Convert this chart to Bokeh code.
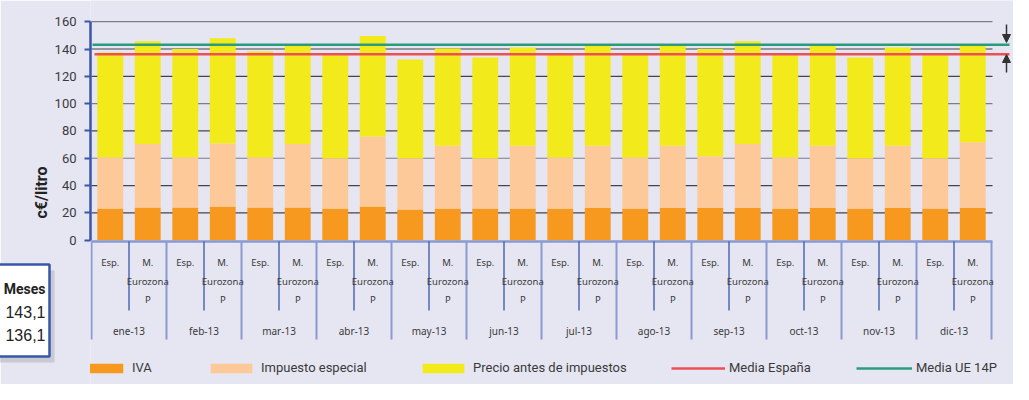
from bokeh.plotting import figure
from bokeh.models import Range1d, FixedTicker, ColumnDataSource, Legend, LegendItem, Arrow, NormalHead
from bokeh.core.properties import value
from bokeh.embed import file_html
from bokeh.resources import INLINE

# ---------------- data ----------------
months = ["ene-13", "feb-13", "mar-13", "abr-13", "may-13", "jun-13",
          "jul-13", "ago-13", "sep-13", "oct-13", "nov-13", "dic-13"]
types = ["Esp.", "M. Eurozona P"]

iva = [23.2, 24.0, 24.0, 24.7, 24.0, 24.0, 23.2, 24.7, 22.5, 23.2, 23.2, 23.2,
       23.2, 23.8, 23.2, 23.8, 23.8, 23.8, 23.2, 23.8, 23.2, 23.8, 23.2, 23.8]
impuesto_especial = [37.4, 46.4, 36.6, 46.1, 36.6, 46.4, 36.9, 51.3, 37.6, 45.9, 36.9, 45.9,
                     37.4, 45.3, 37.4, 45.3, 37.7, 46.6, 37.4, 45.3, 36.9, 45.3, 36.9, 48.0]
precio_antes = [76.9, 75.2, 79.4, 77.0, 77.6, 73.2, 75.4, 73.5, 72.3, 71.3, 73.7, 72.1,
                75.7, 73.8, 75.7, 74.5, 78.5, 75.2, 74.9, 73.8, 73.7, 72.1, 75.4, 71.8]
media_espana = 136.1
media_ue_14p = 143.1
y_ticks = [0, 20, 40, 60, 80, 100, 120, 140, 160]
box_title = "Meses"
box_values = ["143,1", "136,1"]

series_labels = ["IVA", "Impuesto especial", "Precio antes de impuestos"]
line_labels = ["Media España", "Media UE 14P"]

# ---------------- style / layout ----------------
FONT = "Roboto"
LABEL_FONT = "Noto Sans"
BG = "#E6E6F2"
C_IVA = "#F7991F"
C_IMP = "#FDC998"
C_PRE = "#F2EA1A"
C_RED = "#EE4E55"
C_GREEN = "#2A9C7E"
AXIS_BLUE = "#3A56A8"
LIGHT_BLUE = "#8A9AD0"
TXT = "#3a3a3a"
GRID_DARK = "#44444f"
GRID_LIGHT = "#7c7c8a"

W, H = 1013, 384
LEFT = 90
PX = 37.5          # pixels per bar slot
Y0_REF = 247.7     # reference pixel row of value 0
PPU = 1.3656       # pixels per unit


def dx(ref_x):
    return (ref_x - 99.0) / PX


def dy(ref_y):
    return (Y0_REF - ref_y) / PPU


x_range = Range1d(dx(98), dx(98) + (W - LEFT) / PX)
y_range = Range1d(dy(392), dy(8))

p = figure(width=W, height=H, x_range=x_range, y_range=y_range,
           output_backend="svg", toolbar_location=None, x_axis_location=None,
           min_border_left=LEFT, min_border_right=0, min_border_top=0, min_border_bottom=0,
           background_fill_color=BG, border_fill_color=BG, outline_line_color=None)
p.grid.visible = False

yax = p.yaxis[0]
yax.ticker = FixedTicker(ticks=y_ticks)
yax.bounds = (y_ticks[0], y_ticks[-1])
yax.axis_line_color = AXIS_BLUE
yax.axis_line_width = 2.5
yax.major_tick_line_color = AXIS_BLUE
yax.major_tick_line_width = 2
yax.major_tick_in = 0
yax.major_tick_out = 6
yax.minor_tick_line_color = None
yax.major_label_standoff = 8
yax.major_label_text_font = FONT
yax.major_label_text_font_size = "13px"
yax.major_label_text_color = TXT
yax.axis_label = "c€/litro"
yax.axis_label_text_font = FONT
yax.axis_label_text_font_style = "bold"
yax.axis_label_text_font_size = "16px"
yax.axis_label_text_color = "#222222"
yax.axis_label_standoff = 1

n = len(iva)
xs = [i + 0.5 for i in range(n)]

# grid lines
grid_y = y_ticks[1:]
grid_c = [GRID_LIGHT if t in (60, 100, 160) else GRID_DARK for t in grid_y]
p.segment(x0=0, x1=dx(1000), y0=grid_y, y1=grid_y, line_color=grid_c, line_width=1.2)

# stacked bars
src = ColumnDataSource(dict(x=xs, iva=iva, imp=impuesto_especial, pre=precio_antes))
r_iva, r_imp, r_pre = p.vbar_stack(["iva", "imp", "pre"], x="x", width=0.69, source=src,
                                   fill_color=[C_IVA, C_IMP, C_PRE], line_color=None)

# category axis decoration
p.segment(x0=0, x1=dx(1000), y0=dy(249), y1=dy(249), line_color=LIGHT_BLUE, line_width=2.5)
month_edges = [2 * k for k in range(len(months) + 1)]
p.segment(x0=month_edges, x1=month_edges, y0=dy(249), y1=dy(347),
          line_color=LIGHT_BLUE, line_width=2)
inner = [2 * k + 1 for k in range(len(months))]
p.segment(x0=inner, x1=inner, y0=dy(249), y1=dy(318), line_color=AXIS_BLUE, line_width=1.3)

# category labels, wrapped one word per line (as in the original)
lab_x, lab_y, lab_t = [], [], []
for i in range(n):
    for j, word in enumerate(types[i % 2].split(" ")):
        lab_x.append(xs[i])
        lab_y.append(dy(270 + 18.5 * j))
        lab_t.append(word)
lab_src = ColumnDataSource(dict(x=lab_x, y=lab_y, t=lab_t, c=[TXT] * len(lab_t)))
p.text(x="x", y="y", text="t", source=lab_src, text_align="center", text_baseline="middle",
       text_font=value(LABEL_FONT), text_font_size="9.5px", text_color="c")
p.text(x=inner, y=dy(338), text=months, text_align="center", text_baseline="middle",
       text_font=value(LABEL_FONT), text_font_size="10px", text_color=TXT)

# average lines
r_esp = p.segment(x0=dx(102), x1=dx(1017), y0=media_espana, y1=media_espana,
                  line_color=C_RED, line_width=2.5)
r_ue = p.segment(x0=dx(100), x1=dx(1017), y0=media_ue_14p, y1=media_ue_14p,
                 line_color=C_GREEN, line_width=2.5)

# arrows pointing at the average lines
for ys, ye in [(dy(32), dy(50)), (dy(80), dy(62))]:
    p.add_layout(Arrow(end=NormalHead(size=8, fill_color="#333333", line_color="#333333"),
                       x_start=dx(1014), x_end=dx(1014), y_start=ys, y_end=ye,
                       line_color="#333333", line_width=1.5))

# summary box at the left edge
p.quad(left=dx(2), right=dx(62), top=dy(278), bottom=dy(370), fill_color="#888888",
       fill_alpha=0.3, line_color=None, level="overlay")
p.quad(left=dx(-4), right=dx(57), top=dy(272), bottom=dy(364), fill_color="white",
       line_color=AXIS_BLUE, line_width=2.5, level="overlay")
p.text(x=[dx(53)], y=[dy(296)], text=[box_title], text_align="right", text_baseline="middle",
       text_font=value(FONT), text_font_style="bold", text_font_size="14px",
       text_color="#222222", level="overlay")
p.text(x=[dx(53), dx(53)], y=[dy(319), dy(342)], text=box_values, text_align="right",
       text_baseline="middle", text_font=value("Liberation Sans"), text_font_size="16px",
       text_color="#222222", level="overlay")

# legends
legend_specs = [(series_labels[0], r_iva, 84, 52), (series_labels[1], r_imp, 213, 52),
                (series_labels[2], r_pre, 425, 52), (line_labels[0], r_esp, 679, 54),
                (line_labels[1], r_ue, 864, 56)]
for label, rend, rx, gw in legend_specs:
    leg = Legend(items=[LegendItem(label=label, renderers=[rend])], location=(rx - 98, 9),
                 orientation="horizontal", glyph_width=gw, glyph_height=12, label_standoff=4,
                 padding=0, margin=0, border_line_color=None, background_fill_alpha=0,
                 label_text_font=FONT, label_text_font_size="13px", label_text_color=TXT)
    p.add_layout(leg)

open("out.html", "w").write(file_html(p, INLINE))
